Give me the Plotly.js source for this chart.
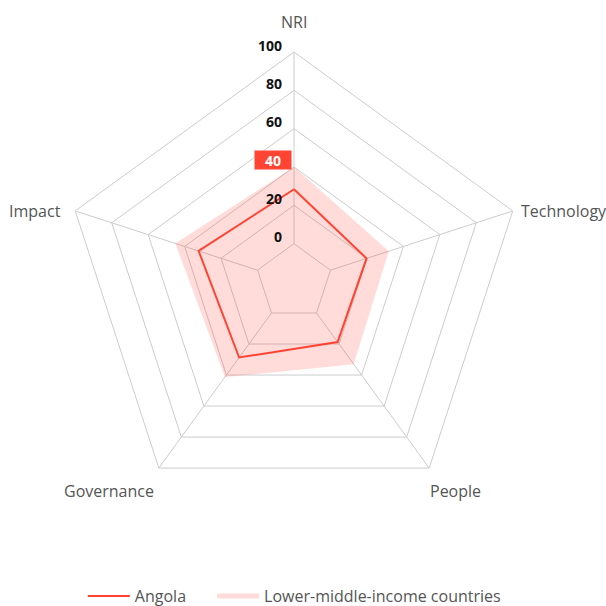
<!DOCTYPE html>
<html>
<head>
<meta charset="utf-8">
<script src="https://cdn.plot.ly/plotly-3.0.1.min.js"></script>
<style>html,body{margin:0;padding:0;background:#fff;}#chart{width:606px;height:606px;}</style>
</head>
<body>
<div id="chart"></div>
<script>
// ---- data ----
var categories = ['NRI', 'Technology', 'People', 'Governance', 'Impact'];
var angolaValues = [28.4, 19.8, 18.7, 28.7, 32.3];
var lmicValues = [40.0, 32.0, 33.0, 41.3, 45.1];
var seriesNames = ['Angola', 'Lower-middle-income countries'];
var tickValues = [0, 20, 40, 60, 80, 100];
var tickLabels = ['0', '20', '40', '60', '80', '100'];
var radialRange = [-20, 100];
var highlightTick = 40;

// ---- helpers ----
function closeLoop(arr) { return arr.concat([arr[0]]); }

var spokeR = [], spokeTheta = [];
categories.forEach(function (c) {
  spokeR.push(tickValues[0], tickValues[tickValues.length - 1], null);
  spokeTheta.push(c, c, null);
});

var gridColor = '#cccccc';
var red = '#ff4433';
var pink = 'rgba(255,68,51,0.19)';
var font = '"Open Sans", "Noto Sans", sans-serif';

var traces = [
  {
    type: 'scatterpolar', mode: 'lines', r: spokeR, theta: spokeTheta,
    line: { color: gridColor, width: 1 }, hoverinfo: 'skip', showlegend: false
  },
  {
    type: 'scatterpolar', mode: 'lines', name: seriesNames[1],
    r: closeLoop(lmicValues), theta: closeLoop(categories),
    fill: 'toself', fillcolor: pink,
    line: { color: 'rgba(255,68,51,0)', width: 0 }, showlegend: false, legendgroup: 'lmic'
  },
  {
    type: 'scatterpolar', mode: 'lines', name: seriesNames[0],
    r: closeLoop(angolaValues), theta: closeLoop(categories),
    line: { color: red, width: 2 }, legend: 'legend'
  },
  {
    // legend entry for the filled series (a single point: no visible line, thick pale bar in legend)
    type: 'scatterpolar', mode: 'lines', name: seriesNames[1],
    r: lmicValues.slice(0, 1), theta: categories.slice(0, 1),
    line: { color: pink, width: 5 }, hoverinfo: 'skip',
    legend: 'legend2', legendgroup: 'lmic', showlegend: true
  }
];

// radial tick labels along the NRI spoke (paper coords derived from the radial scale)
var span = radialRange[1] - radialRange[0];
var annotations = tickValues.map(function (v, i) {
  var yPaper = 0.5 + 0.5 * (v - radialRange[0]) / span;
  var isHi = v === highlightTick;
  var a = {
    xref: 'paper', yref: 'paper', x: 0.5, y: yPaper,
    xanchor: 'right', yanchor: 'middle', showarrow: false,
    text: tickLabels[i],
    xshift: isHi ? -2 : -10, yshift: 7,
    font: { family: font, size: 14, color: isHi ? '#ffffff' : '#111111', weight: 'bold' }
  };
  if (isHi) { a.bgcolor = red; a.width = 36; a.height = 18; a.align = 'center'; a.borderpad = 0; }
  return a;
});

// category labels placed at the outer vertices (clockwise from top)
var labelStyle = [
  { xanchor: 'center', yanchor: 'bottom', xshift: 0, yshift: 17 },
  { xanchor: 'left', yanchor: 'middle', xshift: 6, yshift: 0 },
  { xanchor: 'left', yanchor: 'top', xshift: -1, yshift: -10 },
  { xanchor: 'right', yanchor: 'top', xshift: -3, yshift: -10 },
  { xanchor: 'right', yanchor: 'middle', xshift: -12, yshift: 0 }
];
categories.forEach(function (c, i) {
  var ang = 2 * Math.PI * i / categories.length;
  var s = labelStyle[i];
  annotations.push({
    xref: 'paper', yref: 'paper',
    x: 0.5 + 0.5 * Math.sin(ang), y: 0.5 + 0.5 * Math.cos(ang),
    xanchor: s.xanchor, yanchor: s.yanchor, xshift: s.xshift, yshift: s.yshift,
    showarrow: false, text: c,
    font: { family: font, size: 16, color: '#555555' }
  });
});

var legendBase = {
  orientation: 'h', xanchor: 'left', y: -0.183, yanchor: 'middle',
  itemwidth: 42, bgcolor: 'rgba(0,0,0,0)',
  font: { family: font, size: 16, color: '#555555' }, itemclick: false
};

var layout = {
  width: 606, height: 606,
  margin: { l: 64, r: 82, t: 52, b: 94, autoexpand: false },
  paper_bgcolor: '#ffffff',
  font: { family: font, size: 16, color: '#555555' },
  showlegend: true,
  legend: Object.assign({}, legendBase, { x: 0.041 }),
  legend2: Object.assign({}, legendBase, { x: 0.322 }),
  polar: {
    domain: { x: [0, 1], y: [0, 1] },
    gridshape: 'linear',
    bgcolor: '#ffffff',
    radialaxis: {
      range: radialRange, tickvals: tickValues, showticklabels: false,
      ticks: '', showline: false, gridcolor: gridColor, gridwidth: 1, angle: 90
    },
    angularaxis: {
      rotation: 90, direction: 'clockwise', showgrid: false, showticklabels: false,
      showline: true, linecolor: gridColor, linewidth: 1, ticks: ''
    }
  },
  annotations: annotations
};

Plotly.newPlot('chart', traces, layout, { displayModeBar: false, staticPlot: true });
</script>
</body>
</html>
